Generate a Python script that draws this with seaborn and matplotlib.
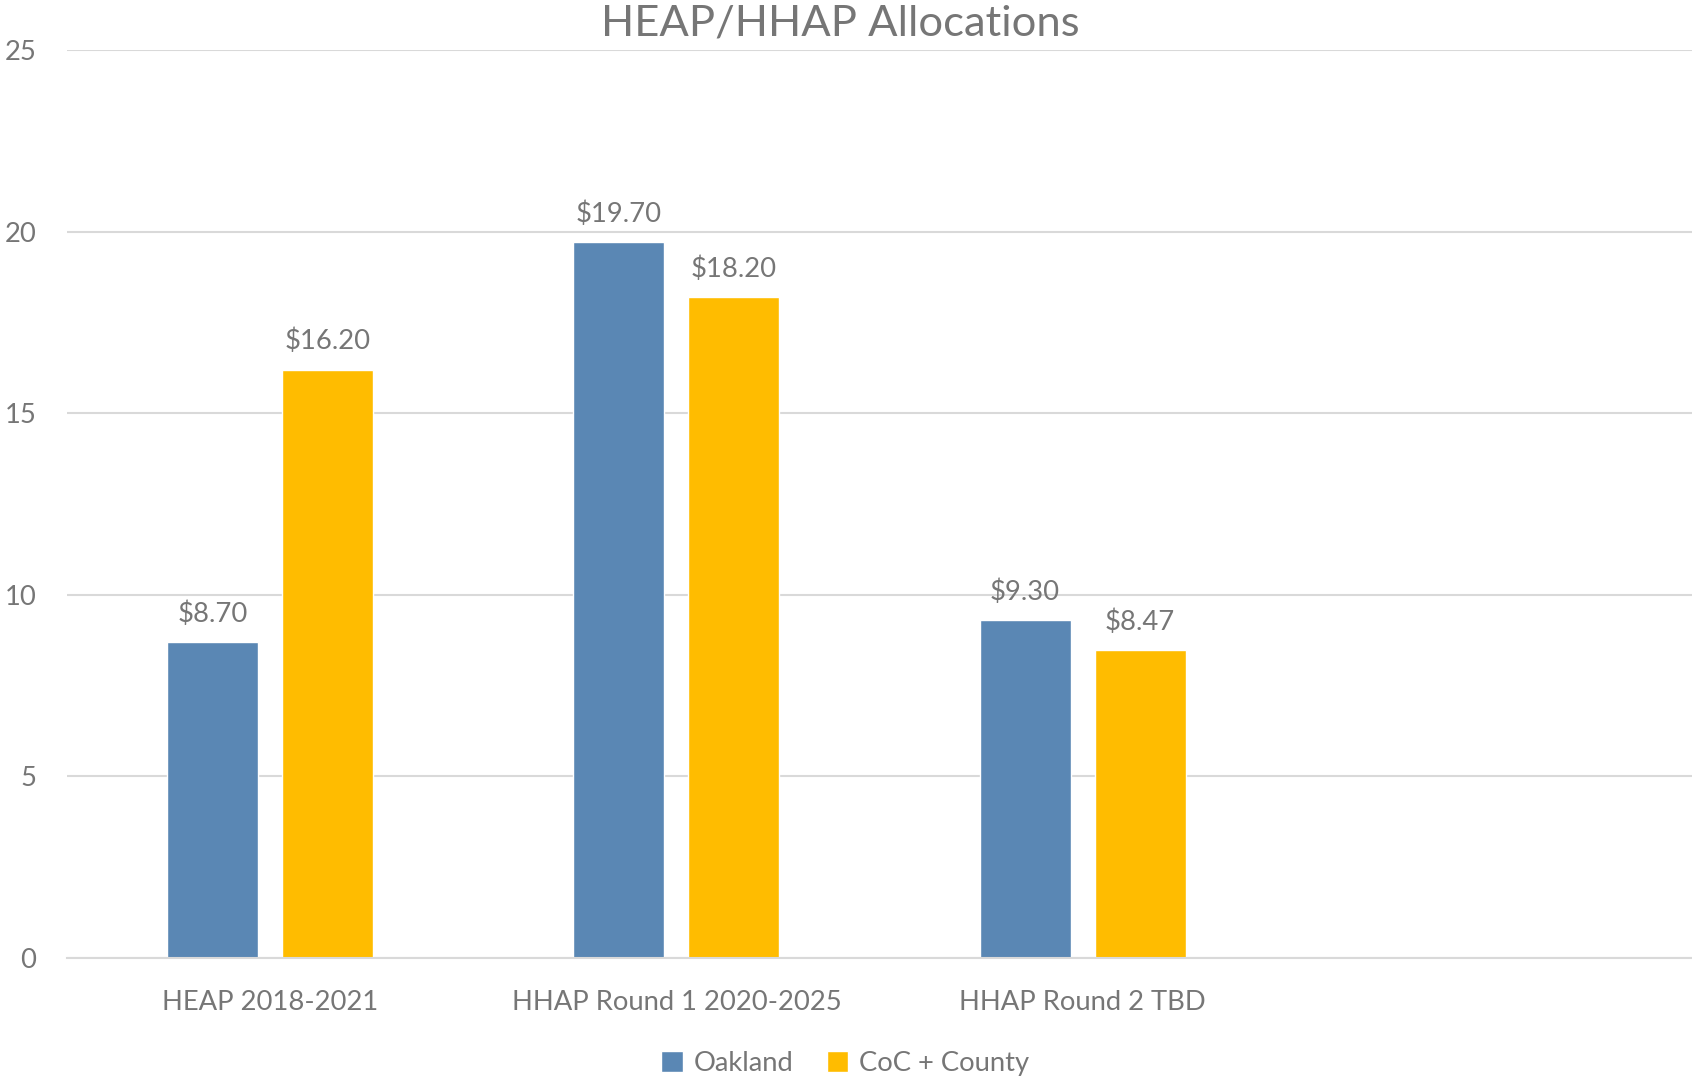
import matplotlib
matplotlib.use("Agg")
import matplotlib.pyplot as plt
import pandas as pd
import seaborn as sns


#====================================================================================================
categories = ['HEAP 2018-2021', 'HHAP Round 1 2020-2025', 'HHAP Round 2 TBD']
axis_order = categories + [' ']
series     = ['Oakland', 'CoC + County']
oakland    = [8.70, 19.70, 9.30]
coc_county = [16.20, 18.20, 8.47]
y_ticks    = [0, 5, 10, 15, 20, 25]

colors     = ['#5A87B4', '#FFBC00']
text_color = '#767676'


#----------------------------------------------------------------------------------------------------
df = pd.DataFrame({
    'category': categories * 2,
    'series':   [series[0]] * len(categories) + [series[1]] * len(categories),
    'value':    oakland + coc_county,
    })

sns.set_style('white')
plt.rcParams['font.family'] = ['Lato', 'DejaVu Sans']

fig = plt.figure(figsize=(16.92, 10.77), dpi=100)
ax = fig.add_axes([0.0396, 0.1105, 0.9604, 0.8431])

sns.barplot(
    data      = df,
    x         = 'category',
    y         = 'value',
    hue       = 'series',
    order     = axis_order,
    hue_order = series,
    palette   = colors,
    width     = 0.567,
    gap       = 0.21,
    saturation = 1,
    errorbar  = None,
    ax        = ax
    )


#----------------------------------------------------------------------------------------------------
for container in ax.containers:
    ax.bar_label(container, fmt='${:.2f}', padding=11, fontsize=19.7, color=text_color)

ax.set_ylim(0, 25)
ax.set_yticks(y_ticks)
ax.set_xlim(-0.5, len(axis_order) - 0.5)
ax.yaxis.grid(True, color='#D9D9D9', linewidth=1.5)
ax.set_axisbelow(True)
for side in ['top', 'right', 'left']:
    ax.spines[side].set_visible(False)
ax.spines['bottom'].set_color('#D9D9D9')
ax.spines['bottom'].set_linewidth(1.5)

ax.tick_params(axis='y', length=0, pad=22, labelsize=19.7, labelcolor=text_color)
ax.tick_params(axis='x', length=0, pad=23, labelsize=19.7, labelcolor=text_color)

ax.set_xlabel('')
ax.set_ylabel('')
fig.text(0.4965, 0.978, 'HEAP/HHAP Allocations', ha='center', va='center',
         fontsize=31.3, color=text_color)

ax.legend(
    loc='center', bbox_to_anchor=(0.479, -0.1157),
    ncol=2, frameon=False, fontsize=19.7, labelcolor=text_color,
    handlelength=0.8, handleheight=0.8, handletextpad=0.4, columnspacing=1.2
    )

fig.savefig('out.png', dpi=100)
